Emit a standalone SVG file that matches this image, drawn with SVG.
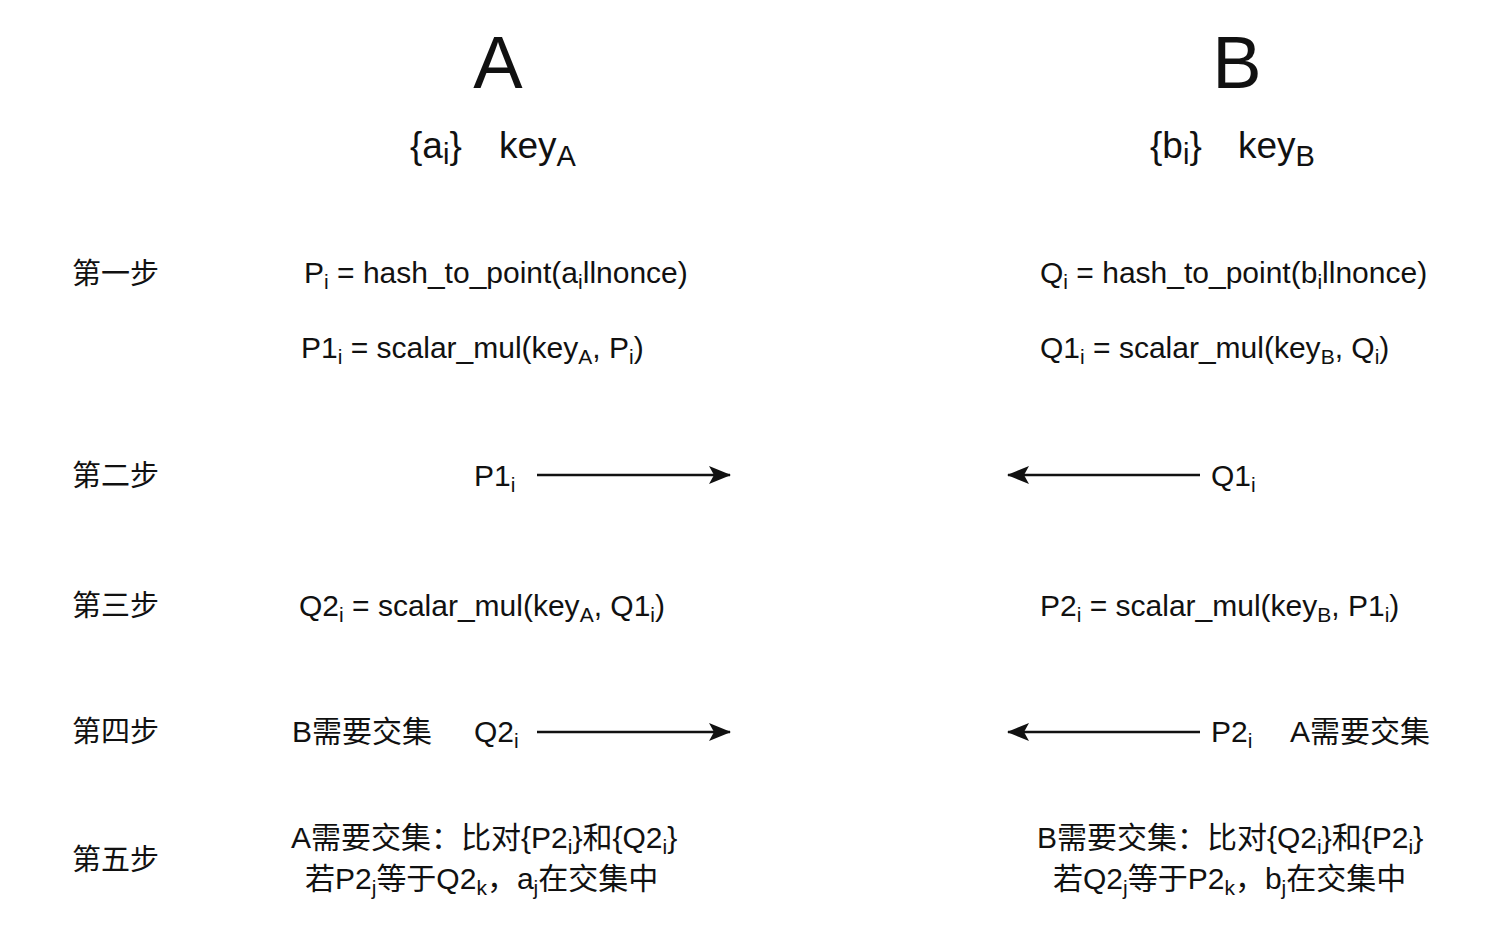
<svg xmlns="http://www.w3.org/2000/svg" width="1500" height="925" viewBox="0 0 1500 925">
<style>
text { font-family: "Liberation Sans", "Noto Sans CJK SC", sans-serif; fill: #111; }
.title { font-size: 74px; text-anchor: middle; }
.sub-title { font-size: 37px; }
.f { font-size: 30px; }
.step { font-size: 29px; }
.s { font-size: 21px; }
.s2 { font-size: 29px; }
.conn { stroke: #111; stroke-width: 2.4; fill: none; }
</style>
<defs>
<marker id="arr" markerUnits="userSpaceOnUse" markerWidth="24" markerHeight="20" refX="21" refY="10" orient="auto">
<path d="M0,1 L22,10 L0,19 L5,10 Z" fill="#111"/>
</marker>
</defs>
<rect width="1500" height="925" fill="#fff"/>

<g id="partyA">
<text class="title" x="498" y="88">A</text>
<text class="sub-title" x="410" y="158">{a<tspan class="s2" dy="6">i</tspan><tspan dy="-6">}</tspan></text>
<text class="sub-title" x="499" y="158">key<tspan class="s2" dy="8">A</tspan></text>
</g>
<g id="partyB">
<text class="title" x="1237" y="88">B</text>
<text class="sub-title" x="1150" y="158">{b<tspan class="s2" dy="6">i</tspan><tspan dy="-6">}</tspan></text>
<text class="sub-title" x="1238" y="158">key<tspan class="s2" dy="8">B</tspan></text>
</g>

<g id="step-labels">
<text class="step" x="72" y="284">第一步</text>
<text class="step" x="72" y="486">第二步</text>
<text class="step" x="72" y="616">第三步</text>
<text class="step" x="72" y="742">第四步</text>
<text class="step" x="72" y="870">第五步</text>
</g>

<g id="step1-A">
<text class="f" x="304" y="283">P<tspan class="s" dy="6">i</tspan><tspan dy="-6"> = hash_to_point(a</tspan><tspan class="s" dy="6">i</tspan><tspan dy="-6">llnonce)</tspan></text>
<text class="f" x="301" y="358">P1<tspan class="s" dy="6">i</tspan><tspan dy="-6"> = scalar_mul(key</tspan><tspan class="s" dy="6">A</tspan><tspan dy="-6">, P</tspan><tspan class="s" dy="6">i</tspan><tspan dy="-6">)</tspan></text>
</g>
<g id="step1-B">
<text class="f" x="1040" y="283">Q<tspan class="s" dy="6">i</tspan><tspan dy="-6"> = hash_to_point(b</tspan><tspan class="s" dy="6">i</tspan><tspan dy="-6">llnonce)</tspan></text>
<text class="f" x="1040" y="358">Q1<tspan class="s" dy="6">i</tspan><tspan dy="-6"> = scalar_mul(key</tspan><tspan class="s" dy="6">B</tspan><tspan dy="-6">, Q</tspan><tspan class="s" dy="6">i</tspan><tspan dy="-6">)</tspan></text>
</g>

<g id="step2-A">
<text class="f" x="474" y="486">P1<tspan class="s" dy="6">i</tspan></text>
</g>
<g id="step2-B">
<text class="f" x="1211" y="486">Q1<tspan class="s" dy="6">i</tspan></text>
</g>

<g id="step3-A">
<text class="f" x="299" y="616">Q2<tspan class="s" dy="6">i</tspan><tspan dy="-6"> = scalar_mul(key</tspan><tspan class="s" dy="6">A</tspan><tspan dy="-6">, Q1</tspan><tspan class="s" dy="6">i</tspan><tspan dy="-6">)</tspan></text>
</g>
<g id="step3-B">
<text class="f" x="1040" y="616">P2<tspan class="s" dy="6">i</tspan><tspan dy="-6"> = scalar_mul(key</tspan><tspan class="s" dy="6">B</tspan><tspan dy="-6">, P1</tspan><tspan class="s" dy="6">i</tspan><tspan dy="-6">)</tspan></text>
</g>

<g id="step4-A">
<text class="f" x="292" y="742">B需要交集</text>
<text class="f" x="474" y="742">Q2<tspan class="s" dy="6">i</tspan></text>
</g>
<g id="step4-B">
<text class="f" x="1211" y="742">P2<tspan class="s" dy="6">i</tspan></text>
<text class="f" x="1290" y="742">A需要交集</text>
</g>

<g id="step5-A">
<text class="f" x="291" y="848">A需要交集：比对{P2<tspan class="s" dy="6">i</tspan><tspan dy="-6">}和{Q2</tspan><tspan class="s" dy="6">i</tspan><tspan dy="-6">}</tspan></text>
<text class="f" x="305" y="889">若P2<tspan class="s" dy="6">j</tspan><tspan dy="-6">等于Q2</tspan><tspan class="s" dy="6">k</tspan><tspan dy="-6">，a</tspan><tspan class="s" dy="6">j</tspan><tspan dy="-6">在交集中</tspan></text>
</g>
<g id="step5-B">
<text class="f" x="1037" y="848">B需要交集：比对{Q2<tspan class="s" dy="6">i</tspan><tspan dy="-6">}和{P2</tspan><tspan class="s" dy="6">i</tspan><tspan dy="-6">}</tspan></text>
<text class="f" x="1053" y="889">若Q2<tspan class="s" dy="6">j</tspan><tspan dy="-6">等于P2</tspan><tspan class="s" dy="6">k</tspan><tspan dy="-6">，b</tspan><tspan class="s" dy="6">j</tspan><tspan dy="-6">在交集中</tspan></text>
</g>

<g id="connectors">
<line class="conn" x1="537" y1="475" x2="730" y2="475" marker-end="url(#arr)"/>
<line class="conn" x1="1200" y1="475" x2="1008" y2="475" marker-end="url(#arr)"/>
<line class="conn" x1="537" y1="732" x2="730" y2="732" marker-end="url(#arr)"/>
<line class="conn" x1="1200" y1="732" x2="1008" y2="732" marker-end="url(#arr)"/>
</g>
</svg>
